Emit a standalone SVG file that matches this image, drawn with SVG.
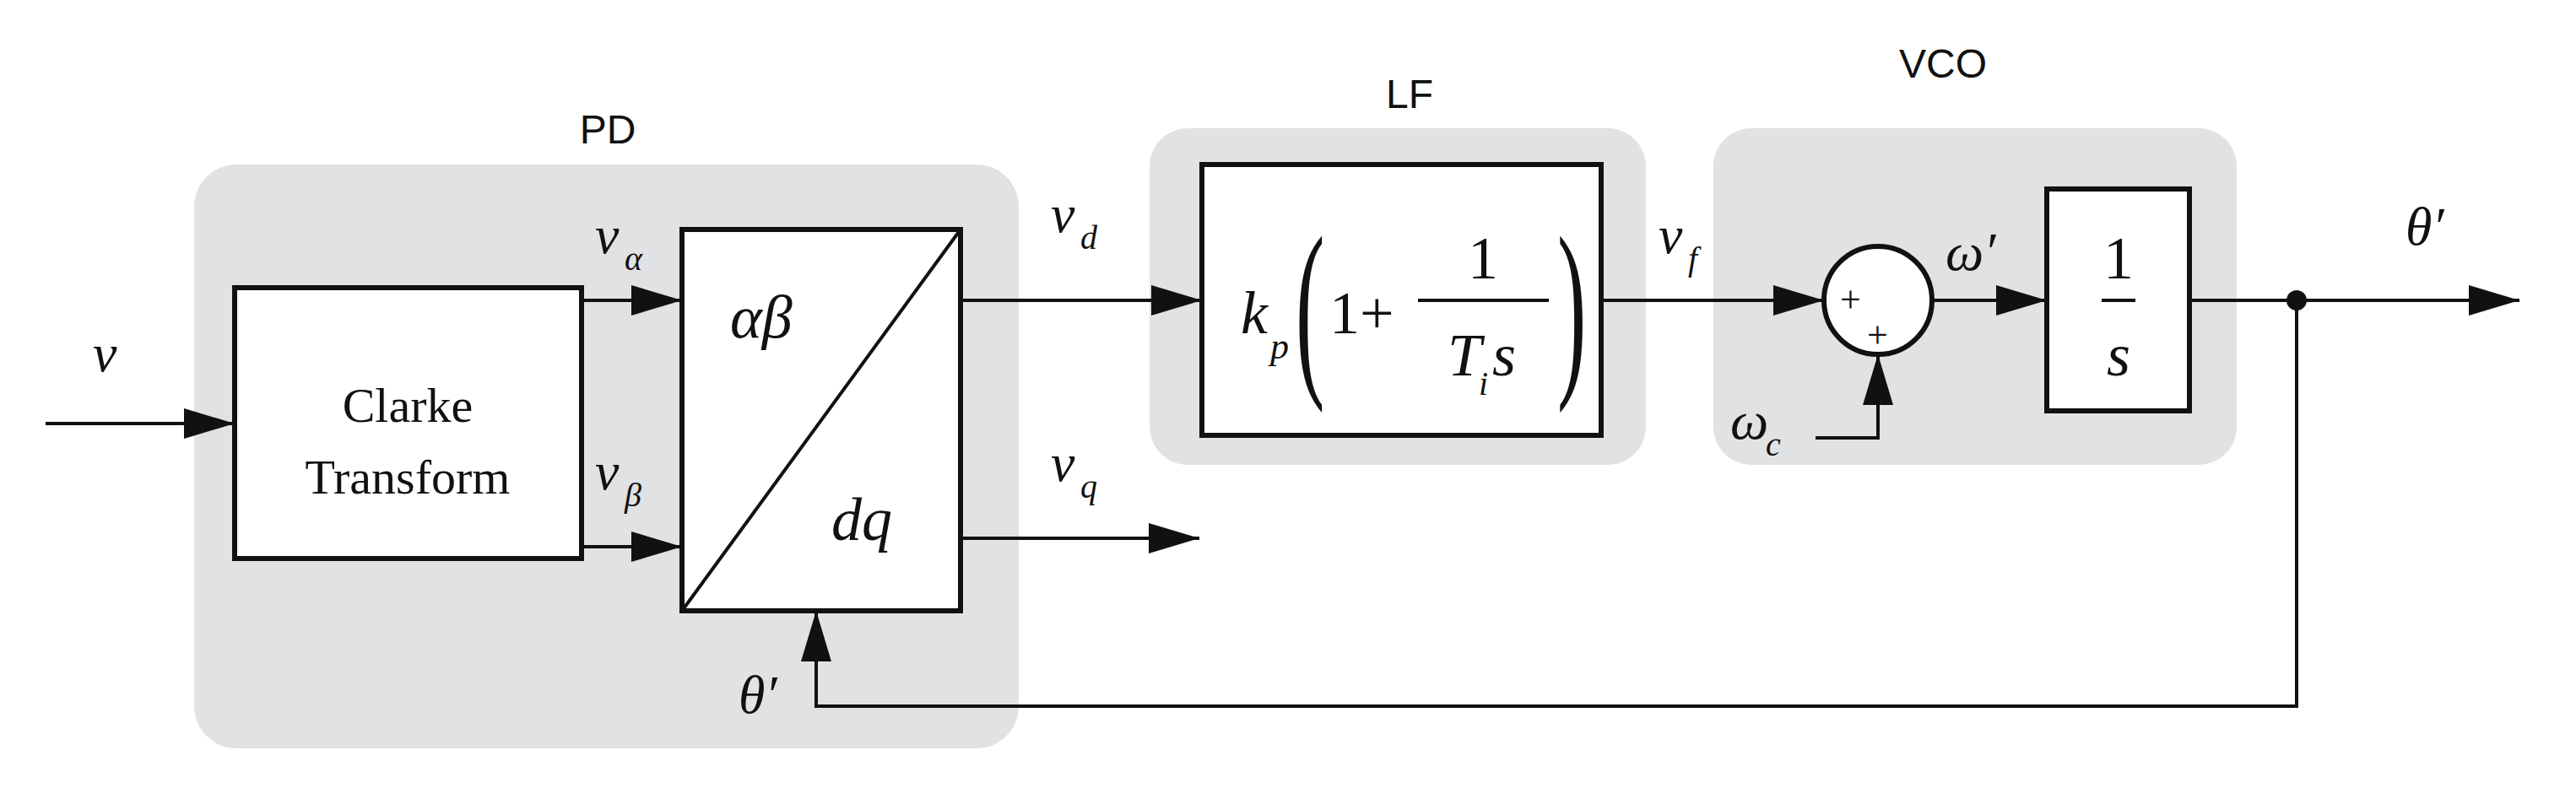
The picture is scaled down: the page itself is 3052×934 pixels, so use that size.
<svg xmlns="http://www.w3.org/2000/svg" width="3052" height="934" viewBox="0 0 3052 934">
<style>
.grp{fill:#e1e2e4}
.blk{fill:#fff;stroke:#111;stroke-width:6}
.ln{fill:none;stroke:#111;stroke-width:4}
.t{font-family:"Liberation Serif",serif;font-style:italic;fill:#111}
.r{font-family:"Liberation Serif",serif;fill:#111}
.s{font-family:"Liberation Sans",sans-serif;fill:#111;font-size:48px}
</style>
<defs>
<marker id="a" markerWidth="12" markerHeight="10" refX="12" refY="5" orient="auto" markerUnits="userSpaceOnUse" viewBox="0 0 12 10"><path d="M0,0 L12,5 L0,10Z" fill="#111"/></marker>
<marker id="A" viewBox="0 0 60 36" refX="60" refY="18" markerWidth="60" markerHeight="36" orient="auto" markerUnits="userSpaceOnUse"><path d="M0,0 L60,18 L0,36Z" fill="#111"/></marker>
</defs>
<g id="PD">
<rect class="grp" x="230" y="195" width="977" height="692" rx="50"/>
<text class="s" x="720" y="170" text-anchor="middle">PD</text>
</g>
<g id="LF">
<rect class="grp" x="1362" y="152" width="588" height="399" rx="45"/>
<text class="s" x="1670" y="128" text-anchor="middle">LF</text>
</g>
<g id="VCO">
<rect class="grp" x="2030" y="152" width="620" height="399" rx="45"/>
<text class="s" x="2302" y="92" text-anchor="middle">VCO</text>
</g>
<g id="clarke">
<rect class="blk" x="278" y="341" width="411" height="321"/>
<text class="r" x="483" y="500" font-size="58" text-anchor="middle">Clarke</text>
<text class="r" x="483" y="585" font-size="58" text-anchor="middle">Transform</text>
</g>
<g id="park">
<rect class="blk" x="808" y="272" width="330" height="452"/>
<line class="ln" x1="808" y1="724" x2="1138" y2="272"/>
<text class="t" x="865" y="400" font-size="72">αβ</text>
<text class="t" x="985" y="640" font-size="72">dq</text>
</g>
<g id="lfblock">
<rect class="blk" x="1424" y="195" width="473" height="321"/>
<text class="t" x="1470" y="395" font-size="72">k</text>
<text class="t" x="1505" y="425" font-size="44">p</text>
<text class="r" x="1535" y="440" font-size="230" transform="scale(0.45,1) translate(1876,0)" style="font-weight:100">(</text>
<text class="r" x="1575" y="395" font-size="72">1+</text>
<line class="ln" x1="1680" y1="356" x2="1835" y2="356"/>
<text class="r" x="1757" y="330" font-size="72" text-anchor="middle">1</text>
<text class="t" x="1715" y="445" font-size="72">T</text>
<text class="t" x="1752" y="468" font-size="40">i</text>
<text class="t" x="1768" y="445" font-size="72">s</text>
<text class="r" x="1845" y="440" font-size="230" transform="scale(0.45,1) translate(2255,0)">)</text>
</g>
<g id="sum">
<circle cx="2225" cy="356" r="64" fill="#fff" stroke="#111" stroke-width="6"/>
<text class="r" x="2180" y="370" font-size="44">+</text>
<text class="r" x="2212" y="412" font-size="44">+</text>
</g>
<g id="integrator">
<rect class="blk" x="2425" y="224" width="169" height="263"/>
<text class="r" x="2510" y="330" font-size="72" text-anchor="middle">1</text>
<line class="ln" x1="2490" y1="356" x2="2530" y2="356"/>
<text class="t" x="2510" y="445" font-size="72" text-anchor="middle">s</text>
</g>
<g id="connectors">
<line class="ln" x1="54" y1="502" x2="278" y2="502" marker-end="url(#A)"/>
<line class="ln" x1="689" y1="356" x2="808" y2="356" marker-end="url(#A)"/>
<line class="ln" x1="689" y1="648" x2="808" y2="648" marker-end="url(#A)"/>
<line class="ln" x1="1138" y1="356" x2="1424" y2="356" marker-end="url(#A)"/>
<line class="ln" x1="1138" y1="638" x2="1421" y2="638" marker-end="url(#A)"/>
<line class="ln" x1="1897" y1="356" x2="2161" y2="356" marker-end="url(#A)"/>
<line class="ln" x1="2289" y1="356" x2="2425" y2="356" marker-end="url(#A)"/>
<polyline class="ln" points="2151,519 2225,519 2225,420" marker-end="url(#A)"/>
<line class="ln" x1="2594" y1="356" x2="2985" y2="356" marker-end="url(#A)"/>
<polyline class="ln" points="2721,356 2721,837 967,837 967,724" marker-end="url(#A)"/>
<circle cx="2721" cy="356" r="12" fill="#111"/>
</g>
<g id="labels">
<text class="t" x="110" y="440" font-size="64">v</text>
<text class="t" x="705" y="300" font-size="64">v</text><text class="t" x="740" y="320" font-size="40">α</text>
<text class="t" x="705" y="580" font-size="64">v</text><text class="t" x="740" y="600" font-size="40">β</text>
<text class="t" x="1245" y="275" font-size="64">v</text><text class="t" x="1280" y="295" font-size="40">d</text>
<text class="t" x="1245" y="570" font-size="64">v</text><text class="t" x="1280" y="590" font-size="40">q</text>
<text class="t" x="1965" y="300" font-size="64">v</text><text class="t" x="2000" y="320" font-size="40">f</text>
<text class="t" x="2305" y="320" font-size="64">ω′</text>
<text class="t" x="2050" y="520" font-size="64">ω</text><text class="t" x="2092" y="540" font-size="40">c</text>
<text class="t" x="2850" y="290" font-size="64">θ′</text>
<text class="t" x="875" y="845" font-size="64">θ′</text>
</g>
</svg>
